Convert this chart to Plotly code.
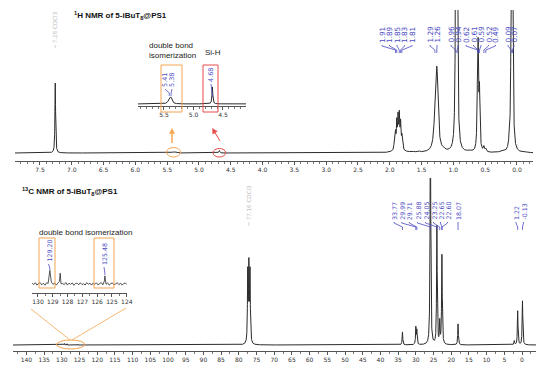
import numpy as np
import plotly.graph_objects as go

W, H = 550, 374

# ---------------- data ----------------
# 1H spectrum peaks: position (ppm), height (arb.), half width (ppm)
h1_ppm = [7.26, 5.41, 5.38, 4.68, 1.93, 1.91, 1.89, 1.87, 1.85, 1.83, 1.81, 1.86,
          1.65, 1.55, 1.29, 1.26, 1.15, 0.96, 0.94, 0.75, 0.62, 0.61, 0.59, 0.52,
          0.49, 0.25, 0.12, 0.09, 0.07, -0.12]
h1_int = [70, 0.7, 0.8, 2.5, 6, 15, 24, 27, 29, 23, 12, 7,
          1.2, 1.5, 20, 80, 1.5, 300, 300, 1.5, 55, 85, 55, 5,
          3, 1.0, 8, 150, 260, 0.8]
h1_hw = [0.006, 0.02, 0.02, 0.008, 0.007, 0.007, 0.007, 0.007, 0.007, 0.007, 0.007, 0.05,
         0.02, 0.02, 0.02, 0.022, 0.02, 0.008, 0.008, 0.03, 0.008, 0.008, 0.008, 0.01,
         0.01, 0.03, 0.01, 0.008, 0.008, 0.03]

# 13C spectrum peaks
c13_ppm = [129.20, 128.50, 125.48, 77.48, 77.16, 76.84, 33.77, 29.99, 29.71, 25.88,
           24.05, 23.25, 22.65, 22.60, 18.07, 2.20, 1.22, -0.13]
c13_int = [1.5, 1.2, 0.9, 70, 75, 70, 13, 17, 14, 260,
           118, 22, 48, 47, 21, 4, 34, 44]
c13_hw = [0.02, 0.02, 0.02, 0.1, 0.1, 0.1, 0.1, 0.1, 0.1, 0.1,
          0.1, 0.1, 0.1, 0.1, 0.1, 0.1, 0.1, 0.1]

# baseline noise seen in the 13C inset (130.4 -> 123.99 ppm)
c13_inset_noise = [0.10, -0.08, 0.14, -0.12, 0.05, 0.16, -0.10, 0.08, -0.14, 0.12,
                   0.02, -0.09, 0.15, -0.06, 0.11, -0.13, 0.07, 0.13, -0.11, 0.04,
                   -0.08, 0.16, -0.12, 0.09, -0.05, 0.12, -0.15, 0.06, 0.10, -0.09,
                   0.14, -0.07, 0.03, -0.12, 0.15, -0.04, 0.09, -0.13, 0.11, -0.06,
                   0.13, -0.10, 0.05, 0.16, -0.12, 0.08, -0.09, 0.12, -0.14, 0.07,
                   0.10, -0.11, 0.04, 0.14, -0.08, 0.09, -0.13, 0.06, 0.11, -0.07]

# peak labels: (texts, peak positions)
h1_label_groups = [
    (["1.91", "1.89", "1.85", "1.83", "1.81"], [1.91, 1.89, 1.85, 1.83, 1.81]),
    (["1.29", "1.26"], [1.29, 1.26]),
    (["0.96", "0.94"], [0.96, 0.94]),
    (["0.62", "0.61", "0.59", "0.52", "0.49"], [0.62, 0.61, 0.59, 0.52, 0.49]),
    (["0.09", "0.07"], [0.09, 0.07]),
]
c13_label_groups = [
    (["33.77", "29.99", "29.71", "25.88", "24.05", "23.25", "22.65", "22.60"],
     [33.77, 29.99, 29.71, 25.88, 24.05, 23.25, 22.65, 22.60]),
    (["18.07"], [18.07]),
    (["1.22", "-0.13"], [1.22, -0.13]),
]

# ---------------- layout geometry (pixels) ----------------
AX = {
    "x":  dict(dom=(15, 533), rng=(7.893, -0.252)),
    "x2": dict(dom=(13, 536), rng=(143.79, -3.95)),
    "x3": dict(dom=(138, 246), rng=(5.94, 4.11)),
    "x4": dict(dom=(32, 127), rng=(130.405, 123.985)),
}
# label x positions in pixels for each group
h1_label_px = [[382, 389.5, 397, 404.5, 412], [430, 437], [451, 458],
               [466, 473.5, 481, 488.5, 495.5], [508, 514]]
c13_label_px = [[394, 401.7, 409.3, 417.5, 425.5, 433.5, 440.5, 447.5], [458], [516, 523.5]]


def px2data(ax, px):
    a, b = AX[ax]["dom"]
    r0, r1 = AX[ax]["rng"]
    return r0 + (px - a) / (b - a) * (r1 - r0)


def py(y):
    return 1 - y / H


def pxx(x):
    return x / W


def lorentz(x, c, h, w):
    x = np.asarray(x, dtype=float)
    out = np.zeros_like(x)
    for ci, hi, wi in zip(c, h, w):
        out += hi * wi ** 2 / ((x - ci) ** 2 + wi ** 2)
    return out


LINE = "#2b2b2b"
BLUE = "#4b4bc4"
ORANGE = "#f5a550"
RED = "#e84a4a"

# ---------------- traces ----------------
x1 = np.linspace(7.9, -0.26, 8161)
y1 = lorentz(x1, h1_ppm, h1_int, h1_hw)

x2 = np.linspace(143.8, -4.0, 14781)
y2 = lorentz(x2, c13_ppm, c13_int, c13_hw)

m3 = (x1 <= 5.95) & (x1 >= 4.1)
x3 = x1[m3]
y3 = y1[m3]

grid4 = np.linspace(130.4, 123.99, len(c13_inset_noise))
inset_peaks = [p for p in c13_ppm if 123.99 <= p <= 130.4]
x4 = np.concatenate([grid4, np.array(inset_peaks)])
n4 = np.concatenate([np.array(c13_inset_noise), np.zeros(len(inset_peaks))])
order = np.argsort(-x4)
x4 = x4[order]
y4 = lorentz(x4, c13_ppm, c13_int, c13_hw) + n4[order]

fig = go.Figure()
fig.add_trace(go.Scatter(x=x1, y=y1, xaxis="x", yaxis="y", mode="lines",
                         line=dict(color=LINE, width=1), hoverinfo="skip"))
fig.add_trace(go.Scatter(x=x2, y=y2, xaxis="x2", yaxis="y2", mode="lines",
                         line=dict(color=LINE, width=1), hoverinfo="skip"))
fig.add_trace(go.Scatter(x=x3, y=y3, xaxis="x3", yaxis="y3", mode="lines",
                         line=dict(color=LINE, width=1), hoverinfo="skip"))
fig.add_trace(go.Scatter(x=x4, y=y4, xaxis="x4", yaxis="y4", mode="lines",
                         line=dict(color=LINE, width=0.8), hoverinfo="skip"))

tickfont = dict(family="DejaVu Sans", size=6, color="#333333")


def xstyle(ax, dtick, minor, anchor, fmt):
    a, b = AX[ax]["dom"]
    return dict(domain=[a / W, b / W], range=list(AX[ax]["rng"]), anchor=anchor,
                automargin=False,
                showline=True, linecolor="#555555", linewidth=1,
                ticks="outside", ticklen=3, tickcolor="#555555", tickwidth=1,
                dtick=dtick, tick0=0, tickfont=tickfont, tickformat=fmt,
                minor=dict(dtick=minor, ticks="outside", ticklen=2, tickcolor="#777777"),
                showgrid=False, zeroline=False, fixedrange=True)


def ystyle(bottom_px, top_px, rng):
    return dict(domain=[py(bottom_px), py(top_px)], range=rng, visible=False,
                automargin=False,
                showgrid=False, zeroline=False, fixedrange=True)


# ---------------- annotations & shapes ----------------
ann = []
shapes = []

# titles
ann.append(dict(x=pxx(72), y=py(16), xref="paper", yref="paper", xanchor="left", yanchor="middle",
                text="<b><sup>1</sup>H NMR of 5-iBuT<sub>8</sub>@PS1</b>", showarrow=False,
                font=dict(family="Liberation Sans", size=8, color="#111111")))
ann.append(dict(x=pxx(20), y=py(191), xref="paper", yref="paper", xanchor="left", yanchor="middle",
                text="<b><sup>13</sup>C NMR of 5-iBuT<sub>8</sub>@PS1</b>", showarrow=False,
                font=dict(family="Liberation Sans", size=8, color="#111111")))

txtfont = dict(family="Liberation Sans", size=8, color="#222222")
ann.append(dict(x=pxx(147), y=py(51), xref="paper", yref="paper", xanchor="left", yanchor="middle",
                text="double bond<br>isomerization", align="left", showarrow=False, font=txtfont))
ann.append(dict(x=pxx(203), y=py(52), xref="paper", yref="paper", xanchor="left", yanchor="middle",
                text="Si-H", showarrow=False, font=txtfont))
ann.append(dict(x=pxx(37), y=py(232), xref="paper", yref="paper", xanchor="left", yanchor="middle",
                text="double bond isomerization", showarrow=False, font=txtfont))

# solvent labels
greyfont = dict(family="DejaVu Sans", size=5.6, color="#bdbdbd")
ann.append(dict(x=7.26, y=py(44), xref="x", yref="paper", xanchor="center", yanchor="bottom",
                textangle=-90, text="7.26 CDCl3", showarrow=False, borderpad=0, font=greyfont))
ann.append(dict(x=77.16, y=py(221), xref="x2", yref="paper", xanchor="center", yanchor="bottom",
                textangle=-90, text="77.16 CDCl3", showarrow=False, borderpad=0, font=greyfont))
shapes.append(dict(type="line", xref="x", yref="paper", x0=7.26, x1=7.26, y0=py(45), y1=py(48),
                   line=dict(color="#cccccc", width=0.8)))
shapes.append(dict(type="line", xref="x2", yref="paper", x0=77.16, x1=77.16, y0=py(222), y1=py(226),
                   line=dict(color="#cccccc", width=0.8)))


def add_group(ax, texts, peaks, lpx, ylb, yk1, yk2, yend, size):
    font = dict(family="DejaVu Sans", size=size, color=BLUE)
    for t, lp, pk in zip(texts, lpx, peaks):
        lx = px2data(ax, lp)
        ann.append(dict(x=lx, y=py(ylb), xref=ax, yref="paper", xanchor="center",
                        yanchor="bottom", textangle=-90, text=t, showarrow=False,
                        borderpad=0, font=font))
        path = "M {:.5f},{:.5f} L {:.5f},{:.5f} L {:.5f},{:.5f} L {:.5f},{:.5f}".format(
            lx, py(ylb + 1), lx, py(yk1), pk, py(yk2), pk, py(yend))
        shapes.append(dict(type="path", xref=ax, yref="paper", path=path,
                           line=dict(color=BLUE, width=0.8)))


for (texts, peaks), lpx in zip(h1_label_groups, h1_label_px):
    add_group("x", texts, peaks, lpx, 44, 46, 50, 53, 7.3)
for (texts, peaks), lpx in zip(c13_label_groups, c13_label_px):
    add_group("x2", texts, peaks, lpx, 221, 223, 227, 230, 6.3)

# inset labels
add_group("x3", ["5.41", "5.38"], [5.41, 5.38], [165, 172], 88, 89, 93, 96, 6.5)
add_group("x3", ["4.68"], [4.68], [211], 83, 84, 95, 97, 6.5)
add_group("x4", ["129.20"], [129.20], [48.5], 263, 264, 268, 270, 6.3)
add_group("x4", ["125.48"], [125.48], [104], 266, 267, 273, 275, 6.3)

# highlight boxes
for (xa, ya, xb, yb, col) in [(161, 65, 182, 112, ORANGE), (203, 65, 218, 112, RED),
                              (39, 238, 55, 288, ORANGE), (94, 238, 114, 288, ORANGE)]:
    shapes.append(dict(type="rect", xref="paper", yref="paper", x0=pxx(xa), x1=pxx(xb),
                       y0=py(yb), y1=py(ya), line=dict(color=col, width=1)))

# ellipses around the regions in the main spectra
shapes.append(dict(type="circle", xref="x", yref="paper", x0=5.51, x1=5.29, y0=py(157), y1=py(147.5),
                   line=dict(color=ORANGE, width=1)))
shapes.append(dict(type="circle", xref="x", yref="paper", x0=4.78, x1=4.58, y0=py(157), y1=py(148.5),
                   line=dict(color=RED, width=1)))
shapes.append(dict(type="circle", xref="x2", yref="paper", x0=131.5, x1=123.5, y0=py(349), y1=py(340),
                   line=dict(color=ORANGE, width=1)))
# zoom lines for 13C inset
shapes.append(dict(type="line", xref="paper", yref="paper", x0=pxx(31), y0=py(309), x1=pxx(70), y1=py(340),
                   line=dict(color=ORANGE, width=0.8)))
shapes.append(dict(type="line", xref="paper", yref="paper", x0=pxx(126), y0=py(308), x1=pxx(72), y1=py(340),
                   line=dict(color=ORANGE, width=0.8)))


# arrows drawn as shapes (shaft + filled head)
def arrow(tail, head, col, width):
    tx, ty = tail
    hx, hy = head
    dx, dy = hx - tx, hy - ty
    L = (dx * dx + dy * dy) ** 0.5
    ux, uy = dx / L, dy / L
    hl, hw = 5.0, 2.6
    bx, by = hx - ux * hl, hy - uy * hl
    px_, py_ = -uy, ux
    shapes.append(dict(type="line", xref="paper", yref="paper", x0=pxx(tx), y0=py(ty),
                       x1=pxx(bx), y1=py(by), line=dict(color=col, width=width)))
    path = "M {:.5f},{:.5f} L {:.5f},{:.5f} L {:.5f},{:.5f} Z".format(
        pxx(hx), py(hy), pxx(bx + px_ * hw), py(by + py_ * hw), pxx(bx - px_ * hw), py(by - py_ * hw))
    shapes.append(dict(type="path", xref="paper", yref="paper", path=path,
                       fillcolor=col, line=dict(color=col, width=0.5)))


arrow((172, 143), (172, 128.5), ORANGE, 1.5)
arrow((220, 141), (212.5, 128.5), RED, 1.0)

fig.update_layout(
    width=W, height=H, autosize=False,
    margin=dict(l=0, r=0, t=0, b=0, pad=0),
    paper_bgcolor="white", plot_bgcolor="rgba(0,0,0,0)",
    showlegend=False,
    xaxis=xstyle("x", 0.5, 0.1, "y", ".1f"),
    yaxis=ystyle(161, 10, [-8, 143]),
    xaxis2=xstyle("x2", 5, 2.5, "y2", "d"),
    yaxis2=ystyle(351, 178, [-6, 167]),
    xaxis3=xstyle("x3", 0.5, 0.1, "y3", ".1f"),
    yaxis3=ystyle(106, 60, [-2 / 6.8, 44 / 6.8]),
    xaxis4=xstyle("x4", 1, 0.5, "y4", "d"),
    yaxis4=ystyle(293, 236, [-1, 5.33]),
    annotations=ann,
    shapes=shapes,
)

fig.write_html("out.html", config={"displayModeBar": False},
               post_script="document.body.style.margin='0px';document.body.style.overflow='hidden';")
